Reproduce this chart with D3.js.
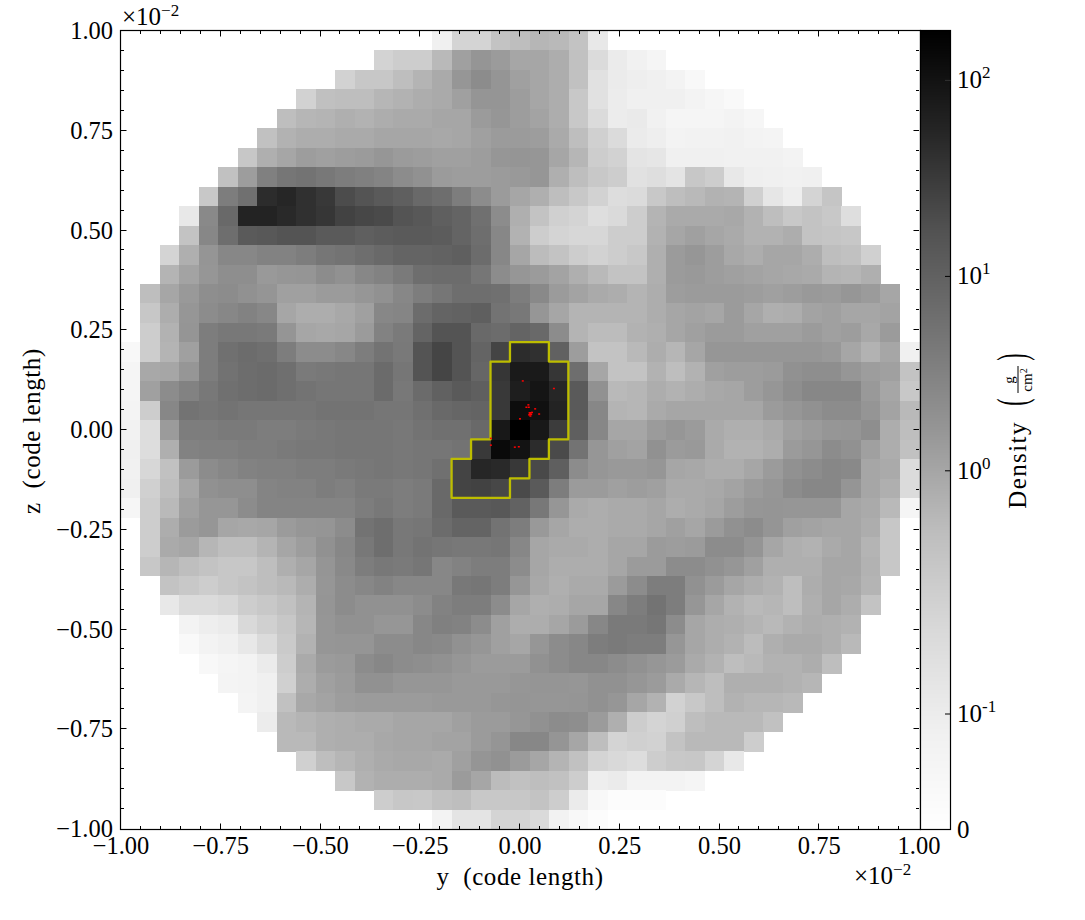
<!DOCTYPE html>
<html><head><meta charset="utf-8">
<script src="https://cdn.jsdelivr.net/npm/d3@7"></script>
<style>html,body{margin:0;padding:0;background:#fff}svg{display:block}text{font-family:"Liberation Serif",serif;fill:#000}</style>
</head><body><svg id="c" width="1085" height="920"></svg>
<script>
const xTickLabels=["−1.00","−0.75","−0.50","−0.25","0.00","0.25","0.50","0.75","1.00"];
const yTickLabels=xTickLabels;
const tickValues=[-1,-0.75,-0.5,-0.25,0,0.25,0.5,0.75,1];
const barTicks=[0,0.1,1,10,100];
const barAnchorsValue=[-1,0,1,2,Math.log10(180)];
const barAnchorsPos=[0.145,0.449,0.692,0.937,1];
const greys=["#ffffff","#f0f0f0","#d9d9d9","#bdbdbd","#969696","#737373","#525252","#252525","#000000"];
const rowStart=[16,13,11,9,8,7,6,5,4,3,3,2,2,1,1,1,0,0,0,0,0,0,0,0,0,1,1,1,2,2,3,3,4,5,6,7,8,9,11,13,16];
const densityRows=[
[.086,.26,.26,.47,.55,.68,.63,.47,.12],
[.27,.33,.33,.63,1.2,1.7,1.4,1,1,.85,.5,.2,.105,.08,.057],
[.28,.41,.41,.55,.71,.9,1.6,2.3,1.7,1.2,1,.85,.5,.16,.105,.095,.086,.07,.04],
[.28,.52,.55,.55,.68,.74,.85,.9,1.2,1.7,1.7,1.3,1,.85,.39,.16,.1,.086,.086,.086,.07,.05,.035],
[.55,.68,.71,.8,.74,.85,.9,.9,1,1,1.4,1.6,1.3,1.1,.85,.39,.2,.1,.11,.08,.057,.06,.06,.07,.05],
[.5,.74,.85,.85,.9,.9,1,1,1,.95,1,1.2,1.4,1.4,1.3,.9,.55,.3,.2,.105,.095,.07,.075,.075,.08,.07,.065],
[.41,.8,1,1.3,1.2,1.3,1.4,1.6,1.4,1.3,1.2,1.2,1.3,1.6,1.7,1.6,1,.68,.33,.28,.14,.13,.086,.086,.086,.08,.08,.08,.07],
[.5,1.3,3.4,4.8,5.3,4.5,3.8,3.4,3,2.3,1.9,1.4,1.3,1.3,1.4,1.5,1.6,.8,.55,.39,.33,.16,.18,.14,.41,.33,.12,.09,.088,.08,.086],
[.39,3.8,5.8,46,55,42,34,20,16,13,11,7.6,6.3,3.8,2.3,1.4,1,.8,.55,.39,.28,.19,.2,.39,.55,.63,.74,.71,.3,.13,.095,.26,.44],
[.12,2.5,7.6,60,60,50,42,36,26,23,21,16,14,11,9.1,6,2.3,.8,.47,.3,.26,.18,.21,.33,.71,.9,.9,.9,.95,.74,.55,.39,.47,.39,.18],
[.47,2.7,6.3,13,14,16,16,13,13,11,12,13,13,12,9.1,6.3,2.7,.74,.33,.26,.24,.24,.33,.33,.74,1,1.2,1,.9,.74,.74,.85,.47,.44,.41],
[.26,.8,1.7,2.7,2.7,3.2,3.2,3.8,4.8,5.3,6.3,7.6,9.1,9.1,9.6,11,6.7,2.7,1,.58,.47,.33,.28,.33,.39,.8,1.4,1.6,1.3,.95,.85,1,1,.85,.55,.5,.3],
[.71,1.1,1.6,2.1,2.1,1.5,1.6,1.7,2.3,1.9,2.7,3.2,4.2,6.3,6.7,6.7,4.8,2.3,1.6,1.4,1.1,.8,.63,.47,.47,.8,1.4,1.5,1.3,1.2,1.1,1,.95,.9,.71,.68,.8],
[.55,1,1.5,2.1,2.3,1.9,1.7,1.2,1.2,1.4,1.4,1.6,1.9,2.7,3.8,4.8,6.3,6.3,5.8,3.8,2.5,1.4,1.1,.9,.85,.71,.85,1.3,1.4,1.4,1.4,1.3,1.2,1.3,1.5,1.4,1.6,1.4,1],
[.41,.85,1.6,2.3,2.7,3.2,2.7,1,.85,.85,.95,1.2,2.7,2.9,6.7,9.1,9.6,11,5.3,4.5,1.6,1,.71,.71,.71,.71,.85,1,1.1,1,1.4,1,.8,.85,1.1,1.2,1,1,1.1],
[.33,.74,1.7,3.8,4.5,4.5,4.2,1.7,1,.95,1,1.4,3.2,4.2,9.1,16,16,7.6,6.7,9.1,7.6,2.3,.71,.58,.58,.74,.8,1,1.2,1.4,1.4,1.2,1.2,1.2,1.4,1.2,1.3,.95,1.4],
[.04,.33,.71,1.2,3.8,5.8,6.8,6.2,3.8,2.3,2.3,2.7,3.8,5.3,4.3,16,24,16,9.1,25,46,42,10,1.3,.47,.47,.63,.85,.68,1,1.6,1.6,1.6,1.6,1.6,1.6,1.5,1,.74,1,.086],
[.057,.95,1,1.6,3.8,5.5,6.5,7,6.2,4.2,4.5,4.8,4.8,7,4.8,16,24,16,8.5,36,80,80,36,6.3,1,.47,.47,.74,.55,.74,1.2,1.3,1.3,1.4,1.9,2.1,2.1,1.6,1.3,1.2,.47],
[.055,1.2,2.3,3.2,4.5,5.8,6.5,7,6.2,5.3,4.8,4.8,4.8,7,4.5,7,10,13,11,33,70,93,55,13,1.9,.63,.68,.85,.74,.85,.95,1,1.3,1.6,2.1,2.7,2.7,2.7,1.5,1,.39],
[.065,.33,2.7,5.3,4.8,5.3,4.8,4.8,4.8,4.8,5.3,5.3,5.3,4.8,4.8,5.8,7.6,8.5,9.1,33,120,110,60,13,2.7,.71,.68,.9,1,1,1,1,1,1.4,1.6,1.9,2.3,2.3,1.7,1.1,.63],
[.075,.19,1.4,3.8,3.8,4.2,4.2,3.8,3.8,4.2,4.5,4.8,4.8,4.8,4.5,5.3,5.8,5.8,7.6,85,180,85,31,11,2.7,1,1,1.4,1.6,1.4,.9,.8,.8,.9,1.2,1.4,1.6,1.7,2.1,.85,.55],
[.086,.19,.8,3.2,3.4,3.4,3.8,3.8,4.2,4.5,4.5,4.8,4.8,4.8,4.5,4.8,4.8,5.3,33,130,100,46,21,5.3,1.6,1.2,1.1,1.9,1.4,1.5,.9,.74,.74,.85,1.4,1.6,2.3,1.9,1.2,.85,.5],
[.08,.24,.5,1.4,2.3,2.7,3.2,3.4,3.4,3.8,3.8,4.2,4.5,4.8,4.5,4.8,5.8,25,55,50,34,22,11,2.3,1.6,1.5,1.5,1.6,1,.95,.85,.85,1,1.4,1.9,2.3,2.7,2.5,1,.9,.2],
[.086,.3,.55,1,1.9,2.1,2.1,3,3.2,3.2,3.8,3.4,4.2,4.2,3.8,4.2,7.6,25,26,23,21,13,3.8,1.4,1.4,1.2,1.3,1.2,.9,.9,.95,1.1,1.4,1.6,2.3,2.7,2.7,1.7,1,.8,.2],
[.05,.33,.63,1.2,1.6,1.6,2.3,3,3,3,3,3,3.8,4.5,3.8,4.2,7.6,13,13,14,9.6,4.5,1.6,.9,.85,.9,.9,1,.85,.9,1,1.3,1.6,1.7,1.6,1.6,1.6,1,.9,.63,.057],
[.33,.85,1.4,1.6,1,.95,1,1.4,1.6,1.7,2.3,5.3,6.3,4.5,4.8,6.7,9.1,9.1,5.3,3.8,1.5,1,.85,.85,.9,.9,1,1.2,1,1.4,1.9,2.3,1.7,1.2,1.1,1,1,.85,.41],
[.33,.9,1,.68,.55,.55,.71,1,1.3,1.9,2.7,4.5,6.3,4.5,5.3,4.8,4.5,4.5,4.8,2.7,1,.9,.9,.85,1,1,1.4,1.3,1.4,2.3,2.3,1.7,1,.8,.74,.9,1,.71,.41],
[.41,.68,.55,.47,.41,.41,.55,.8,1,1.7,2.5,3.8,4.5,4.2,4.8,2.7,3.2,3.8,3.8,2.3,1,.85,.85,.85,1,1.4,1.4,2.3,2.3,1.9,1.6,1.2,.8,.8,.8,1,1,.74,.41],
[.47,.39,.33,.41,.47,.55,.63,.85,1.6,2.3,2.7,3.2,2.7,2.7,2.7,4.5,4.8,3.8,1.6,.95,.8,.9,.9,1.4,2.3,3.8,3.8,1.9,1.4,1,.85,.74,.55,.85,1,.95,.71],
[.12,.2,.2,.24,.33,.39,.5,.71,1.7,2.3,1.9,1.9,1.9,2.3,3.2,3.8,3.8,2.3,1,.8,.85,1,1,2.7,3.8,5.3,3.8,1.6,1,.74,.63,.68,.55,.8,1,.85,.47],
[.07,.095,.105,.22,.3,.41,.68,1.6,1.9,1.9,1.6,1.6,2.7,3.4,3.2,2.3,1.2,.85,.85,1,1.4,2.7,4.2,4.2,4.8,2.3,1,.85,.8,.71,.63,.74,.85,.8,.74],
[.035,.07,.086,.12,.2,.37,.74,1.6,1.7,1.7,2.3,2.3,2.7,2.5,1.9,1.6,1.2,1,1.6,2.3,2.7,3.8,4.2,3.8,3.8,1.6,1,.85,.74,.58,.8,.9,.9,.8,.63],
[.04,.057,.07,.105,.33,.9,1.4,1.5,2.3,2.7,2.3,2.1,1.9,1.6,1.4,1.4,1.4,1.9,2.3,2.7,2.7,2.3,1.9,1.6,1.4,.9,.74,.55,.63,.74,.74,.85,.55],
[.065,.07,.086,.3,.85,1.2,1.4,1.9,1.9,1.6,1.6,1.6,1.5,1.5,1.5,1.6,1.7,1.7,1.6,1.9,1.9,1.6,1.4,.9,.68,.55,.8,.8,.8,.74,.68],
[.065,.086,.5,.95,1.1,1.3,1.4,1.4,1.4,1.4,1.5,1.5,1.5,1.6,1.7,1.6,1.6,1.7,1.9,1.6,1,.74,.28,.39,.55,.74,.68,.68,.63],
[.1,.63,.71,.8,.85,.9,.9,1,1,1,1.2,1.4,1.4,1.6,1.9,2.3,2.1,1.4,.8,.33,.26,.3,.55,.63,.63,.63,.5],
[.63,.63,.8,.85,.85,.95,1,1,1.1,1.1,1.4,1.7,2.7,2.7,1.7,1,.55,.26,.3,.28,.47,.63,.63,.63,.33],
[.3,.55,.68,.8,.9,.95,.95,.9,1.2,1.7,1.9,1.4,1,.71,.5,.26,.22,.19,.33,.39,.41,.26,.12],
[.39,.74,.85,.85,.85,.9,1.4,1,.58,.5,.55,.5,.33,.095,.105,.07,.07,.07,.055],
[.33,.41,.39,.5,.55,.39,.39,.41,.47,.33,.105,.04,.02,.015,.02],
[.07,.14,.14,.26,.26,.21,.075,.04,.02]
];
// contour outline, in cell-edge indices
const contourCol=[20,22,22,23,23,22,22,21,21,20,20,17,17,18,18,19,19,20];
const contourRow=[16,16,17,17,21,21,22,22,23,23,24,24,22,22,21,21,17,17];
// particle positions (×10⁻²)
const particleY=[.007,.085,.021,.016,.022,.038,.048,.027,.025,.023,.028,.024,.03,.026,0,-.073,-.073,-.013,-.003];
const particleZ=[.123,.104,.063,.057,.057,.053,.04,.043,.04,.038,.039,.043,.044,.035,.028,-.021,-.038,-.043,-.042];

const L=121,R=919,T=31,B=829,BL=920.5,BR=950.5;
const svg=d3.select("#c");
const N=41;
const x=d3.scaleLinear().domain([-1,1]).range([L,R]);
const y=d3.scaleLinear().domain([-1,1]).range([B,T]);
const edgeX=d3.scaleLinear().domain([0,N]).range([L,R]);
const edgeY=d3.scaleLinear().domain([0,N]).range([T,B]);
const logPos=d3.scaleLinear().domain(barAnchorsValue).range(barAnchorsPos);
const pos=v=>v<=0.1?v/0.1*barAnchorsPos[0]:logPos(Math.log10(v));
const grey=d3.scaleLinear().domain(d3.range(9).map(i=>i/8)).range(greys).clamp(true);
const barY=d3.scaleLinear().domain([0,1]).range([830,30]);

// cells
const cells=[];
densityRows.forEach((row,r)=>row.forEach((v,i)=>cells.push({r,c:rowStart[r]+i,v})));
svg.append("g").attr("shape-rendering","crispEdges").selectAll("rect").data(cells).join("rect")
 .attr("x",d=>edgeX(d.c)).attr("y",d=>edgeY(d.r))
 .attr("width",d=>edgeX(d.c+1)-edgeX(d.c)+0.5).attr("height",d=>edgeY(d.r+1)-edgeY(d.r)+0.5)
 .attr("fill",d=>grey(pos(d.v)));

// contour
const outline=d3.line().x(d=>edgeX(d[0])-0.3).y(d=>edgeY(d[1])-0.3).curve(d3.curveLinearClosed);
svg.append("path").attr("d",outline(contourCol.map((c,i)=>[c,contourRow[i]])))
 .attr("fill","none").attr("stroke","#bdbd00").attr("stroke-width",2.3).attr("stroke-linejoin","round");

// particles
svg.append("g").selectAll("rect").data(particleY.map((v,i)=>[v,particleZ[i]])).join("rect")
 .attr("x",d=>x(d[0])-1).attr("y",d=>y(d[1])-0.75).attr("width",2).attr("height",1.5).attr("fill","#f00");

// frame
svg.append("rect").attr("x",L-0.5).attr("y",T-0.5).attr("width",BL-L+0.5).attr("height",B-T+1).attr("fill","none").attr("stroke","#000").attr("stroke-width",1.2);

// ticks
const minor=d3.range(-19,20).map(i=>i/20);
const tg=svg.append("g").attr("stroke","#000").attr("stroke-width",1);
minor.forEach(v=>{
  const major=Math.abs(v*4-Math.round(v*4))<1e-9, len=major?5.5:3;
  const px=Math.round(x(v))-0.5, py=Math.round(y(v))-0.5;
  tg.append("line").attr("x1",px).attr("x2",px).attr("y1",B).attr("y2",B-len);
  tg.append("line").attr("x1",px).attr("x2",px).attr("y1",T).attr("y2",T+len);
  tg.append("line").attr("y1",py).attr("y2",py).attr("x1",L).attr("x2",L+len);
  tg.append("line").attr("y1",py).attr("y2",py).attr("x1",R).attr("x2",R-len);
});
const FS=24.5;
svg.append("g").selectAll("text").data(tickValues).join("text")
 .attr("x",d=>x(d)).attr("y",854).attr("text-anchor","middle").attr("font-size",FS)
 .text((d,i)=>xTickLabels[i]);
svg.append("g").selectAll("text").data(tickValues).join("text")
 .attr("x",113).attr("y",d=>y(d)+8).attr("text-anchor","end").attr("font-size",FS)
 .text((d,i)=>yTickLabels[i]);

// offsets
function offset(xp,yp){
  const t=svg.append("text").attr("x",xp).attr("y",yp).attr("font-size",25);
  t.append("tspan").text("×10");
  t.append("tspan").attr("dy",-9).attr("font-size",17).text("−2");
}
offset(122,25);
offset(854,884);

// axis titles
const TS=25;
svg.append("text").attr("x",520).attr("y",885).attr("text-anchor","middle").attr("font-size",TS).attr("letter-spacing",0.6).attr("xml:space","preserve").text("y  (code length)");
svg.append("text").attr("transform","translate(40,431) rotate(-90)").attr("text-anchor","middle").attr("font-size",TS).attr("letter-spacing",0.6).attr("xml:space","preserve").text("z  (code length)");

// colorbar
const steps=d3.range(0,800);
svg.append("g").attr("shape-rendering","crispEdges").selectAll("rect").data(steps).join("rect")
 .attr("x",BL).attr("width",BR-BL).attr("y",d=>barY((d+1)/800)).attr("height",1.5)
 .attr("fill",d=>grey((d+0.5)/800));
svg.append("rect").attr("x",BL).attr("y",30.5).attr("width",BR-BL).attr("height",799).attr("fill","none").attr("stroke","#000").attr("stroke-width",1.2);
const barLabels=[["0",""],["10","-1"],["10","0"],["10","1"],["10","2"]];
barTicks.forEach((v,i)=>{
  const py=barY(pos(v));
  if(v>0) svg.append("line").attr("x1",BR-5.5).attr("x2",BR).attr("y1",py).attr("y2",py).attr("stroke",v===100?"#333":"#000").attr("stroke-width",1);
  const t=svg.append("text").attr("x",957).attr("y",py+(v>0?8:7.5)).attr("font-size",25);
  t.append("tspan").text(barLabels[i][0]);
  if(barLabels[i][1]) t.append("tspan").attr("dy",-10).attr("font-size",17).text(barLabels[i][1]);
});
// colorbar title
const g=svg.append("g").attr("transform","translate(1017,430) rotate(-90)");
g.append("text").attr("x",-35).attr("y",9).attr("text-anchor","middle").attr("font-size",TS).attr("letter-spacing",1.4).text("Density");
g.append("text").attr("transform","translate(28,9) scale(1,1.9)").attr("text-anchor","middle").attr("font-size",22).text("(");
g.append("text").attr("transform","translate(73,9) scale(1,1.9)").attr("text-anchor","middle").attr("font-size",22).text(")");
g.append("line").attr("x1",37).attr("x2",64).attr("y1",1).attr("y2",1).attr("stroke","#000").attr("stroke-width",1);
g.append("text").attr("x",50).attr("y",-3).attr("text-anchor","middle").attr("font-size",15).text("g");
const cm=g.append("text").attr("x",50).attr("y",15).attr("text-anchor","middle").attr("font-size",15);
cm.append("tspan").text("cm");
cm.append("tspan").attr("dy",-5).attr("font-size",10).text("2");
</script></body></html>
